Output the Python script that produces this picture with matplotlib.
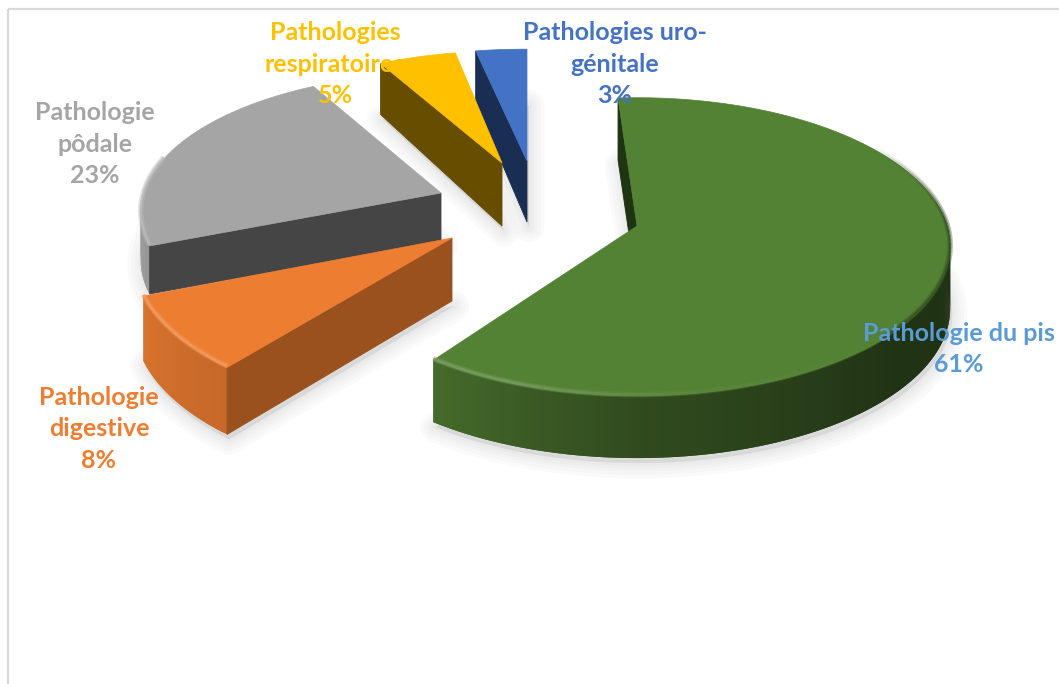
import numpy as np
import matplotlib
matplotlib.use("Agg")
import matplotlib.pyplot as plt
from matplotlib.patches import Polygon, Rectangle
from matplotlib.collections import LineCollection

names = ["Pathologie du pis", "Pathologie\ndigestive", "Pathologie\npôdale",
         "Pathologies\nrespiratoires", "Pathologies uro-\ngénitale"]
values = [61, 8, 23, 5, 3]

top_colors = ["#548235", "#ED7D31", "#A5A5A5", "#FFC000", "#4472C4"]
cut_colors = ["#1f3412", "#9A511E", "#454545", "#664D00", "#192E52"]
label_colors = ["#5B9BD5", "#ED7D31", "#A5A5A5", "#FFC000", "#4472C4"]

# layout of the exploded slices, in pixels of the 1059x684 picture
apex = [(637, 226), (452, 238), (441, 193), (502, 163), (527, 161)]
scale_x = [0.975, 0.99, 0.935, 0.89, 0.98]
scale_y = [0.975, 1.0, 0.91, 0.85, 0.85]
rot = [-4, 0, 0, 0, 0]
depth = [(62, 0.0), (63, 0.03), (48, 0.0), (63, 0.12), (61, 0.09)]
label_pos = [(959, 349), (99, 429), (95, 144), (335, 64), (615, 64)]
draw_order = [4, 3, 2, 1, 0]

rx, ry, persp = 318, 150, 0.14


def project(i, deg):
    t = np.radians(deg)
    p = 1 / (1 + persp * np.cos(t))
    return apex[i][0] + rx * scale_x[i] * np.sin(t) * p, apex[i][1] - ry * scale_y[i] * np.cos(t) * p


def drop(i, y):
    return depth[i][0] + depth[i][1] * (y - apex[i][1])


def side_shade(deg):
    return np.interp(deg, [90, 130, 180, 215, 250, 285], [0.38, 0.39, 0.58, 0.82, 0.92, 0.95])


def mix(color, f):
    return np.array(matplotlib.colors.to_rgb(color)) * f


def lighter(color, f):
    c = np.array(matplotlib.colors.to_rgb(color))
    return c + (1 - c) * f


fig = plt.figure(figsize=(10.59, 6.84), dpi=100)
ax = fig.add_axes([0, 0, 1, 1])
ax.set_xlim(0, 1059)
ax.set_ylim(684, 0)
ax.axis("off")

ax.add_patch(Rectangle((7.5, 8.5), 1200, 800, fill=False, edgecolor="#d9d9d9", linewidth=1.6))

edges = np.cumsum([0] + values) * 3.6
slices = []
for i in range(len(values)):
    a0 = edges[i] + rot[i]
    a1 = edges[i + 1] + rot[i]
    th = np.linspace(a0, a1, int(a1 - a0) * 2 + 2)
    xs, ys = project(i, th)
    slices.append((a0, a1, th, xs, ys))

# soft shadow under every slice
for i, (a0, a1, th, xs, ys) in enumerate(slices):
    bx = np.r_[apex[i][0], xs]
    by = np.r_[apex[i][1], ys]
    by = by + drop(i, by) + 5
    for lw in [22, 17, 12, 8, 4]:
        ax.add_patch(Polygon(np.c_[bx + 2, by], closed=True, facecolor="#8c8c8c", edgecolor="#8c8c8c",
                             linewidth=lw, alpha=0.035, joinstyle="round", zorder=1))

for n, i in enumerate(draw_order):
    a0, a1, th, xs, ys = slices[i]
    z = 2 + n
    # outer rim, quads overlap so no seams show
    for k in range(len(th) - 1):
        if th[k] < 80 or th[k] > 285:
            continue
        e = min(k + 2, len(th) - 1)
        quad = [(xs[k], ys[k]), (xs[e], ys[e]),
                (xs[e], ys[e] + drop(i, ys[e])), (xs[k], ys[k] + drop(i, ys[k]))]
        c = mix(top_colors[i], side_shade(th[k]))
        ax.add_patch(Polygon(quad, closed=True, facecolor=c, edgecolor="none", zorder=z))
    # cut face at the start of the slice
    cx, cy = apex[i]
    ex, ey = xs[0], ys[0]
    ax.add_patch(Polygon([(cx, cy), (ex, ey), (ex, ey + drop(i, ey)), (cx, cy + drop(i, cy))], closed=True,
                         facecolor=cut_colors[i], edgecolor=cut_colors[i], linewidth=0.6, zorder=z))
    # top face
    ax.add_patch(Polygon(np.c_[np.r_[cx, xs], np.r_[cy, ys]], closed=True, facecolor=top_colors[i],
                         edgecolor=top_colors[i], linewidth=0.5, zorder=z))
    # bevel along the outer edge
    pts = np.c_[xs, ys - 1.5].reshape(-1, 1, 2)
    segs = np.concatenate([pts[:-1], pts[1:]], axis=1)
    soft, sharp = [], []
    for t in th[:-1]:
        if t < 135:
            a = np.interp(t, [55, 90, 135], [0.0, 0.6, 0.6])
            c = mix(top_colors[i], 0.55)
            soft.append((*c, a * 0.6))
            sharp.append((*c, a))
        elif t > 285:
            soft.append((1, 1, 1, 0))
            sharp.append((1, 1, 1, 0))
        else:
            f = np.interp(t, [135, 170, 200, 285], [0.0, 0.04, 0.2, 0.28])
            c = lighter(top_colors[i], f)
            soft.append((*c, 0.4))
            sharp.append((*c, 0.9))
    ax.add_collection(LineCollection(segs, colors=soft, linewidths=4, zorder=z + 0.1))
    ax.add_collection(LineCollection(segs, colors=sharp, linewidths=1.8, zorder=z + 0.2))

for i in range(len(values)):
    ax.text(label_pos[i][0], label_pos[i][1], f"{names[i]}\n{values[i]}%", color=label_colors[i],
            ha="center", va="center", family="Lato", fontweight="bold", fontsize=18,
            linespacing=1.43, zorder=20)

fig.savefig("out.png", dpi=100)
